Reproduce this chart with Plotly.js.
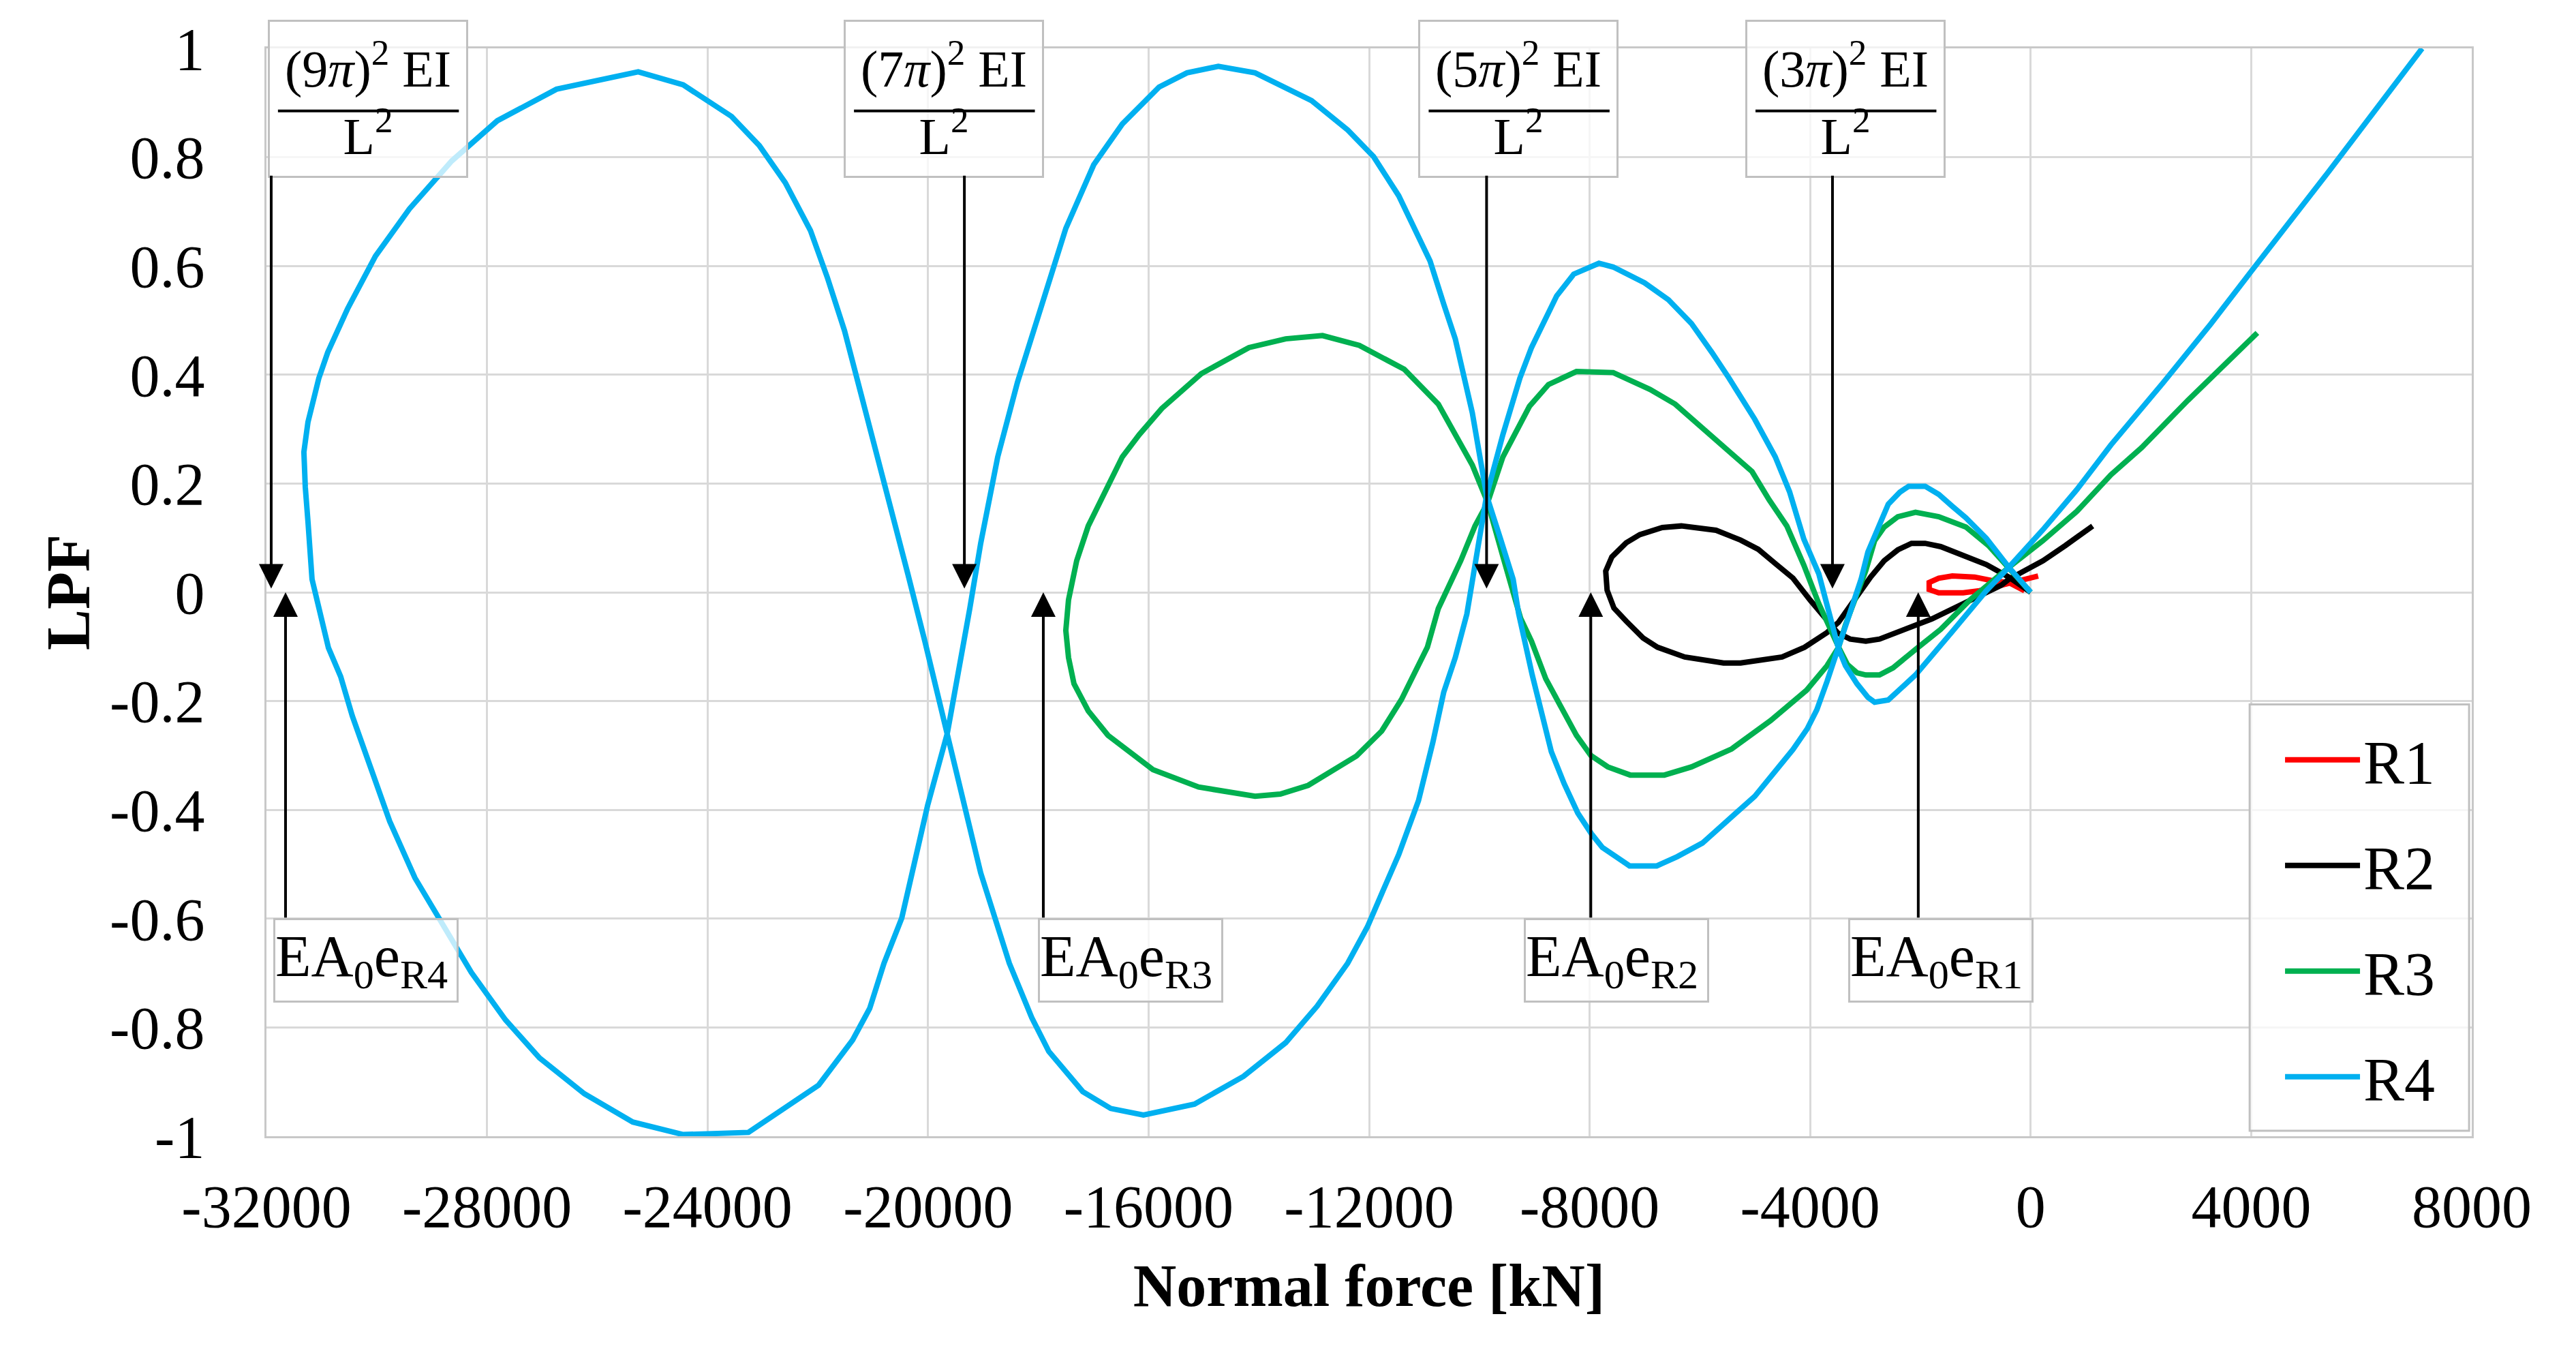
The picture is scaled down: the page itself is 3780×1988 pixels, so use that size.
<!DOCTYPE html>
<html>
<head>
<meta charset="utf-8">
<script src="https://cdn.plot.ly/plotly-3.0.1.min.js"></script>
<style>
  html, body { margin: 0; padding: 0; background: #fff; }
  #plot { width: 3780px; height: 1988px; }
</style>
</head>
<body>
<div id="plot"></div>
<script>
// series: normal force [kN] vs LPF, each path starts at the origin
let r1X = [-111, -396, -680, -1014, -1421, -1668, -1841, -1841, -1668, -1224, -928, -606, -359, -111, 136];
let r1Y = [0.003, 0.018, 0.021, 0.028, 0.030, 0.026, 0.018, 0.005, -0.001, -0.001, 0.003, 0.011, 0.018, 0.024, 0.030];

let r2X = [0, -396, -804, -1224, -1632, -1915, -2162, -2410, -2657, -2904, -3076, -3274, -3484, -3694, -4102, -4509,
  -5262, -5571, -6275, -6769, -7029, -7337, -7559, -7683, -7708, -7597, -7337, -7090, -6682, -6337, -5707, -5262,
  -4941, -4633, -4311, -4003, -3682, -3497, -3274, -2990, -2743, -2237, -1792, -1163, -533, -396, -186, 222, 630, 1124];
let r2Y = [0, 0.028, 0.051, 0.068, 0.084, 0.090, 0.090, 0.078, 0.058, 0.028, 0.003, -0.023, -0.055, -0.074, -0.101, -0.119,
  -0.130, -0.130, -0.119, -0.101, -0.084, -0.053, -0.029, 0.004, 0.039, 0.065, 0.091, 0.106, 0.119, 0.122, 0.114, 0.096,
  0.079, 0.053, 0.026, -0.014, -0.053, -0.075, -0.086, -0.090, -0.086, -0.066, -0.049, -0.018, 0.013, 0.024, 0.036, 0.058, 0.086, 0.122];

let r3X = [0, -396, -766, -1175, -1668, -2089, -2410, -2657, -2830, -2990, -3151, -3360, -3484, -3694, -4064, -4472,
  -4719, -5424, -6152, -6645, -7263, -7670, -7979, -8239, -8486, -8795, -9054, -9251, -9573, -9850, -10128, -10338,
  -10745, -11363, -12178, -12845, -13512, -14179, -15044, -15760, -16168, -16476, -16785, -17094, -17304, -17452, -17501,
  -17452, -17353, -17094, -16736, -15920, -15093, -14068, -13611, -13105, -12228, -11771, -11413, -11153, -10943, -10745,
  -10338, -10079, -9850, -9573, -9313, -9091, -8746, -8239, -7572, -6905, -6448, -5954, -5473, -5054, -4744, -4423,
  -4115, -3843, -3484, -3323, -3151, -2990, -2743, -2496, -2089, -1632, -1101, -396, 222, 839, 1456, 2012, 2852, 3642, 4111];
let r3Y = [0, 0.046, 0.086, 0.120, 0.139, 0.147, 0.139, 0.120, 0.095, 0.040, -0.001, -0.060, -0.101, -0.135, -0.180, -0.214,
  -0.236, -0.288, -0.321, -0.336, -0.336, -0.321, -0.300, -0.263, -0.218, -0.159, -0.090, -0.048, 0.066, 0.165, 0.234, 0.273,
  0.346, 0.410, 0.454, 0.472, 0.466, 0.450, 0.402, 0.338, 0.290, 0.249, 0.185, 0.122, 0.058, -0.014, -0.070,
  -0.120, -0.168, -0.218, -0.263, -0.326, -0.358, -0.375, -0.371, -0.355, -0.301, -0.255, -0.197, -0.143, -0.101, -0.030,
  0.058, 0.122, 0.165, 0.249, 0.298, 0.342, 0.382, 0.406, 0.404, 0.373, 0.346, 0.302, 0.262, 0.222, 0.170, 0.122,
  0.050, -0.021, -0.101, -0.133, -0.148, -0.152, -0.152, -0.139, -0.105, -0.068, -0.014, 0.046, 0.095, 0.149, 0.216, 0.266, 0.353, 0.430, 0.477];

let r4X = [0, -396, -804, -1175, -1421, -1668, -1915, -2212, -2373, -2583, -2781, -2953, -3076, -3237, -3484, -3694,
  -3879, -4053, -4311, -5004, -5954, -6411, -6782, -7276, -7770, -7967, -8214, -8461, -8695, -8881, -9041, -9288,
  -9387, -9622, -9869, -10128, -10437, -10647, -10894, -11462, -11919, -12388, -13043, -14068, -14735, -15303, -15809,
  -16476, -16995, -17501, -17760, -18020, -18378, -18736, -19045, -19243, -19420, -19650, -20008, -20477, -20799, -21058,
  -21367, -21984, -23257, -24442, -25356, -26233, -27048, -27665, -28283, -28888, -29307, -29765, -30073, -30246, -30444,
  -30654, -30876, -31173, -31197, -31247, -31296, -31321, -31247, -31049, -30889, -30530, -30024, -29407, -28640, -27813,
  -26739, -25257, -24442, -23565, -23058, -22589, -22132, -21824, -21515, -21268, -21009, -20675, -20367, -20058, -19650,
  -19452, -19045, -18526, -18119, -17810, -17193, -16686, -16093, -15167, -14278, -13512, -12944, -12388, -12030, -11771,
  -11462, -11104, -10844, -10647, -10437, -10227, -10079, -9869, -9573, -9264, -9054, -8597, -8288, -7831, -7572, -7004,
  -6571, -6152, -5782, -5473, -5004, -4633, -4374, -4115, -3843, -3484, -3360, -3151, -2953, -2830, -2583, -2249, -2089,
  -1421, -804, -396, 222, 839, 1456, 2400, 3272, 4000, 5371, 7100];
let r4Y = [0, 0.046, 0.099, 0.137, 0.158, 0.180, 0.195, 0.195, 0.184, 0.162, 0.115, 0.074, 0.024, -0.026, -0.100, -0.164,
  -0.216, -0.251, -0.289, -0.375, -0.461, -0.486, -0.503, -0.503, -0.469, -0.444, -0.406, -0.352, -0.293, -0.218, -0.152, -0.039,
  0.024, 0.100, 0.178, 0.330, 0.466, 0.530, 0.609, 0.729, 0.801, 0.850, 0.904, 0.955, 0.967, 0.955, 0.929,
  0.861, 0.786, 0.669, 0.585, 0.497, 0.386, 0.249, 0.090, -0.030, -0.130, -0.259, -0.392, -0.599, -0.682, -0.765,
  -0.823, -0.906, -0.993, -0.997, -0.974, -0.922, -0.856, -0.786, -0.699, -0.599, -0.525, -0.421, -0.333, -0.281, -0.227,
  -0.155, -0.102, 0.024, 0.050, 0.130, 0.194, 0.258, 0.313, 0.394, 0.441, 0.521, 0.618, 0.705, 0.793, 0.867,
  0.925, 0.957, 0.933, 0.875, 0.821, 0.753, 0.665, 0.578, 0.481, 0.386, 0.290, 0.162, 0.034, -0.090, -0.259,
  -0.351, -0.516, -0.682, -0.782, -0.844, -0.918, -0.949, -0.961, -0.941, -0.890, -0.828, -0.761, -0.682, -0.615, -0.554,
  -0.482, -0.383, -0.276, -0.184, -0.120, -0.040, 0.050, 0.178, 0.290, 0.394, 0.450, 0.545, 0.585, 0.605, 0.598, 0.569,
  0.538, 0.494, 0.441, 0.394, 0.318, 0.249, 0.185, 0.098, 0.034, -0.104, -0.135, -0.168, -0.193, -0.202, -0.198, -0.168, -0.152,
  -0.072, 0.003, 0.046, 0.115, 0.189, 0.271, 0.385, 0.494, 0.590, 0.769, 1.0];

let seriesNames = ["R1", "R2", "R3", "R4"];
let seriesColors = ["#FF0000", "#000000", "#00B050", "#00B0F0"];

let xTickVals = [-32000, -28000, -24000, -20000, -16000, -12000, -8000, -4000, 0, 4000, 8000];
let xTickText = ["-32000", "-28000", "-24000", "-20000", "-16000", "-12000", "-8000", "-4000", "0", "4000", "8000"];
let yTickVals = [-1, -0.8, -0.6, -0.4, -0.2, 0, 0.2, 0.4, 0.6, 0.8, 1];
let yTickText = ["-1", "-0.8", "-0.6", "-0.4", "-0.2", "0", "0.2", "0.4", "0.6", "0.8", "1"];

// Euler loads (n*pi)^2 EI / L^2 and the EA0e markers
let eulerLabels = ["(9<i>π</i>)<sup>2</sup> EI<br>L<sup>2</sup>", "(7<i>π</i>)<sup>2</sup> EI<br>L<sup>2</sup>",
  "(5<i>π</i>)<sup>2</sup> EI<br>L<sup>2</sup>", "(3<i>π</i>)<sup>2</sup> EI<br>L<sup>2</sup>"];
let eulerBoxX = [-30160, -19712, -9288, -3360];
let eulerArrowX = [-31914, -19341, -9869, -3595];
let eaLabels = ["EA<sub>0</sub>e<sub>R4</sub>", "EA<sub>0</sub>e<sub>R3</sub>", "EA<sub>0</sub>e<sub>R2</sub>", "EA<sub>0</sub>e<sub>R1</sub>"];
let eaBoxX = [-30197, -16328, -7510, -1631];
let eaArrowX = [-31654, -17909, -7979, -2039];

const FONT = "'Liberation Serif', 'Times New Roman', serif";

let xs = [r1X, r2X, r3X, r4X];
let ys = [r1Y, r2Y, r3Y, r4Y];
let traces = [];
for (let i = 0; i < 4; i++) {
  traces.push({
    x: xs[i],
    y: ys[i],
    type: 'scatter',
    mode: 'lines',
    name: seriesNames[i],
    legendgroup: seriesNames[i],
    line: { color: seriesColors[i], width: 8 },
    cliponaxis: true
  });
}

let annotations = [];
for (let i = 0; i < 4; i++) {
  annotations.push({
    x: eulerBoxX[i], y: 0.907, xref: 'x', yref: 'y',
    text: eulerLabels[i], showarrow: false,
    font: { family: FONT, size: 76, color: '#000' },
    width: 288, height: 226, borderpad: 0,
    bgcolor: 'rgba(255,255,255,0.75)', bordercolor: '#c0c0c0', borderwidth: 3,
    xanchor: 'center', yanchor: 'middle', align: 'center', valign: 'middle'
  });
  annotations.push({
    x: eaBoxX[i], y: -0.677, xref: 'x', yref: 'y',
    text: eaLabels[i], showarrow: false,
    font: { family: FONT, size: 86, color: '#000' },
    width: 266, height: 118, borderpad: 0,
    bgcolor: 'rgba(255,255,255,0.75)', bordercolor: '#c0c0c0', borderwidth: 3,
    xanchor: 'center', yanchor: 'middle', align: 'left', valign: 'middle'
  });
}
for (let i = 0; i < 4; i++) {
  // fraction bar
  annotations.push({
    x: eulerBoxX[i] + 1650, y: 0.885, ax: eulerBoxX[i] - 1650, ay: 0.885,
    xref: 'x', yref: 'y', axref: 'x', ayref: 'y',
    text: '', showarrow: true, arrowhead: 0, arrowwidth: 4, arrowcolor: '#000'
  });
  // arrow down to the Euler load
  annotations.push({
    x: eulerArrowX[i], y: 0.007, ax: eulerArrowX[i], ay: 0.768,
    xref: 'x', yref: 'y', axref: 'x', ayref: 'y',
    text: '', showarrow: true, arrowhead: 2, arrowsize: 1.8, arrowwidth: 4, arrowcolor: '#000'
  });
  // arrow up to EA0e
  annotations.push({
    x: eaArrowX[i], y: 0.0, ax: eaArrowX[i], ay: -0.6,
    xref: 'x', yref: 'y', axref: 'x', ayref: 'y',
    text: '', showarrow: true, arrowhead: 2, arrowsize: 1.8, arrowwidth: 4, arrowcolor: '#000'
  });
}

// legend frame (semi-transparent like the source)
let shapes = [{
  type: 'rect', xref: 'paper', yref: 'paper',
  x0: 0.8993, x1: 0.9988, y0: 0.005, y1: 0.397,
  fillcolor: 'rgba(255,255,255,0.75)', line: { color: '#c0c0c0', width: 3 },
  layer: 'above'
}];

let layout = {
  width: 3780,
  height: 1988,
  paper_bgcolor: '#fff',
  plot_bgcolor: '#fff',
  margin: { l: 391, r: 153, t: 71, b: 321 },
  font: { family: FONT, color: '#000' },
  showlegend: true,
  legend: {
    x: 0.9138, y: 0.014, xanchor: 'left', yanchor: 'bottom',
    bgcolor: 'rgba(0,0,0,0)', borderwidth: 0,
    font: { family: FONT, size: 90, color: '#000' },
    tracegroupgap: 35, itemwidth: 110
  },
  xaxis: {
    range: [-32000, 8000],
    tickvals: xTickVals, ticktext: xTickText,
    ticks: '', ticklabelstandoff: 24,
    tickfont: { family: FONT, size: 88, color: '#000' },
    showgrid: true, gridcolor: '#d9d9d9', gridwidth: 3,
    zeroline: false, showline: true, linecolor: '#c8c8c8', linewidth: 3, mirror: true,
    title: { text: '<b>Normal force [kN]</b>', font: { family: FONT, size: 88, color: '#000' }, standoff: 37 }
  },
  yaxis: {
    range: [-1, 1],
    tickvals: yTickVals, ticktext: yTickText,
    ticks: '', ticklabelstandoff: 70,
    tickfont: { family: FONT, size: 88, color: '#000' },
    showgrid: true, gridcolor: '#d9d9d9', gridwidth: 3,
    zeroline: false, showline: true, linecolor: '#c8c8c8', linewidth: 3, mirror: true,
    title: { text: '<b>LPF</b>', font: { family: FONT, size: 90, color: '#000' }, standoff: 0 }
  },
  shapes: shapes,
  annotations: annotations
};

Plotly.newPlot('plot', traces, layout, { staticPlot: true });
</script>
</body>
</html>
